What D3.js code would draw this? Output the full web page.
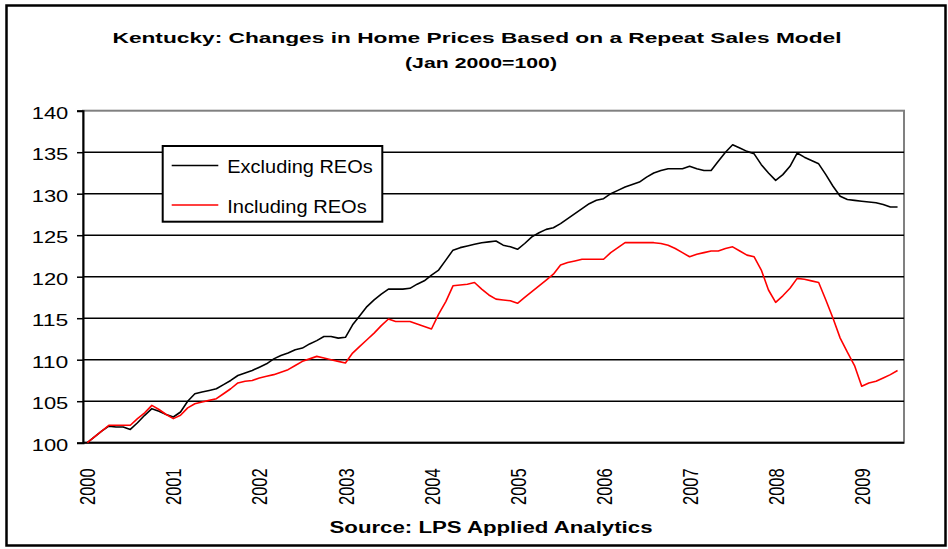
<!DOCTYPE html>
<html>
<head>
<meta charset="utf-8">
<script src="https://cdn.jsdelivr.net/npm/d3@7"></script>
<style>
  body { margin: 0; background: #fff; }
  text { font-family: Arial, "Liberation Sans", sans-serif; }
</style>
</head>
<body>
<script>
// monthly index, Jan 2000 .. Jun 2009
const years = ["2000", "2001", "2002", "2003", "2004", "2005", "2006", "2007", "2008", "2009"];
const yTicks = [100, 105, 110, 115, 120, 125, 130, 135, 140];

const excludingREOs = [
  100, 100.7, 101.4, 102.0, 101.9, 101.9, 101.6, 102.4, 103.3, 104.1, 103.8, 103.4,
  103.1, 103.7, 105.0, 105.9, 106.1, 106.3, 106.5, 107.0, 107.5, 108.1, 108.4, 108.7,
  109.1, 109.5, 110.1, 110.5, 110.8, 111.2, 111.4, 111.9, 112.3, 112.8, 112.8, 112.6,
  112.7, 114.2, 115.3, 116.4, 117.2, 117.9, 118.5, 118.5, 118.5, 118.6, 119.1, 119.5,
  120.2, 120.8, 122.0, 123.2, 123.5, 123.7, 123.9, 124.1, 124.2, 124.3, 123.8, 123.6,
  123.3, 124.0, 124.8, 125.3, 125.7, 125.9, 126.4, 127.0, 127.6, 128.2, 128.8, 129.2,
  129.4, 130.0, 130.4, 130.8, 131.1, 131.4, 132.0, 132.5, 132.8, 133.0, 133.0, 133.0,
  133.3, 133.0, 132.8, 132.8, 133.9, 135.0, 135.9, 135.5, 135.1, 134.8, 133.5, 132.5,
  131.6, 132.3, 133.3, 134.9, 134.4, 134.0, 133.6, 132.3, 130.9, 129.7, 129.3, 129.2,
  129.1, 129.0, 128.9, 128.7, 128.4, 128.4
];

const includingREOs = [
  100, 100.7, 101.4, 102.1, 102.1, 102.1, 102.1, 102.9, 103.6, 104.5, 104.0, 103.4,
  102.9, 103.3, 104.2, 104.7, 104.9, 105.1, 105.3, 105.9, 106.5, 107.2, 107.4, 107.5,
  107.8, 108.0, 108.2, 108.5, 108.8, 109.3, 109.8, 110.1, 110.4, 110.2, 110.0, 109.8,
  109.6, 110.8, 111.6, 112.4, 113.2, 114.1, 114.9, 114.6, 114.6, 114.6, 114.3, 114.0,
  113.7, 115.5, 117.0, 118.9, 119.0, 119.1, 119.3, 118.5, 117.8, 117.3, 117.2, 117.1,
  116.8, 117.5, 118.2, 118.9, 119.6, 120.3, 121.4, 121.7, 121.9, 122.1, 122.1, 122.1,
  122.1, 122.9, 123.5, 124.1, 124.1, 124.1, 124.1, 124.1, 124.0, 123.8, 123.4, 122.9,
  122.4, 122.7, 122.9, 123.1, 123.1, 123.4, 123.6, 123.1, 122.6, 122.4, 120.8, 118.4,
  116.9, 117.7, 118.6, 119.8, 119.7, 119.5, 119.3, 117.2, 115.0, 112.6, 110.9, 109.3,
  106.8, 107.2, 107.4, 107.8, 108.2, 108.7
];

const series = [
  { name: "Excluding REOs", values: excludingREOs, color: "#000000" },
  { name: "Including REOs", values: includingREOs, color: "#ff0000" },
];

const W = 948, H = 549;
const plot = { left: 83, right: 904, top: 110.7, bottom: 442.7 };

const svg = d3.select("body").append("svg")
  .attr("width", W)
  .attr("height", H);

// outer frame
svg.append("rect")
  .attr("x", 6.5).attr("y", 5.5)
  .attr("width", 939).attr("height", 540)
  .attr("fill", "#fff")
  .attr("stroke", "#000")
  .attr("stroke-width", 2.5);

const xScale = d3.scaleLinear()
  .domain([-0.6, 113.9])
  .range([plot.left, plot.right]);

const yScale = d3.scaleLinear()
  .domain([100, 140])
  .range([plot.bottom, plot.top]);

// title
svg.append("text")
  .attr("x", 477).attr("y", 42.7)
  .attr("text-anchor", "middle")
  .attr("font-size", 15.5).attr("font-weight", "bold")
  .attr("textLength", 729).attr("lengthAdjust", "spacingAndGlyphs")
  .text("Kentucky: Changes in Home Prices Based on a Repeat Sales Model");

svg.append("text")
  .attr("x", 481).attr("y", 67.5)
  .attr("text-anchor", "middle")
  .attr("font-size", 15.5).attr("font-weight", "bold")
  .attr("textLength", 152).attr("lengthAdjust", "spacingAndGlyphs")
  .text("(Jan 2000=100)");

// plot area border (grey top/right)
svg.append("rect")
  .attr("x", plot.left).attr("y", plot.top)
  .attr("width", plot.right - plot.left)
  .attr("height", plot.bottom - plot.top)
  .attr("fill", "none")
  .attr("stroke", "#808080")
  .attr("stroke-width", 2);

// gridlines
svg.append("g")
  .selectAll("line")
  .data(yTicks.filter((d) => d > 100 && d < 140))
  .enter()
  .append("line")
  .attr("x1", plot.left).attr("x2", plot.right)
  .attr("y1", (d) => yScale(d)).attr("y2", (d) => yScale(d))
  .attr("stroke", "#000")
  .attr("stroke-width", 1.5);

// y axis
const gY = svg.append("g")
  .attr("transform", "translate(" + plot.left + ",0)")
  .call(d3.axisLeft(yScale).tickValues(yTicks).tickSize(6).tickPadding(0));

gY.select(".domain").attr("stroke", "#000").attr("stroke-width", 2);
gY.selectAll(".tick line").attr("stroke", "#000").attr("stroke-width", 1.5);
gY.selectAll(".tick text")
  .attr("x", -14.7)
  .attr("dy", "0.46em")
  .attr("fill", "#000")
  .attr("font-size", 16)
  .attr("font-family", "Arial, 'Liberation Sans', sans-serif")
  .attr("textLength", 36.6)
  .attr("lengthAdjust", "spacingAndGlyphs");

// x axis line
svg.append("line")
  .attr("x1", plot.left).attr("x2", plot.right)
  .attr("y1", plot.bottom).attr("y2", plot.bottom)
  .attr("stroke", "#000")
  .attr("stroke-width", 2);

// year labels (rotated)
svg.append("g")
  .selectAll("text")
  .data(years)
  .enter()
  .append("text")
  .attr("transform", (d, i) =>
    "translate(" + xScale(i * 12) + ",468.3) scale(1.4,1) rotate(-90)")
  .attr("text-anchor", "end")
  .attr("dy", "0.36em")
  .attr("font-size", 16)
  .attr("textLength", 36.7)
  .attr("lengthAdjust", "spacingAndGlyphs")
  .text((d) => d);

// lines
const line = d3.line()
  .x((d, i) => xScale(i))
  .y((d) => yScale(d));

svg.append("g")
  .selectAll("path")
  .data(series)
  .enter()
  .append("path")
  .attr("d", (d) => line(d.values))
  .attr("fill", "none")
  .attr("stroke", (d) => d.color)
  .attr("stroke-width", 1.6)
  .attr("stroke-linejoin", "round");

// legend
const legend = svg.append("g");
legend.append("rect")
  .attr("x", 162.7).attr("y", 146)
  .attr("width", 219.6).attr("height", 75.7)
  .attr("fill", "#fff")
  .attr("stroke", "#000")
  .attr("stroke-width", 2);

const legendRows = [
  { y: 165.5, base: 173.3, len: 145.4 },
  { y: 205, base: 212.7, len: 139.4 },
];

series.forEach((s, i) => {
  const r = legendRows[i];
  legend.append("line")
    .attr("x1", 171.7).attr("x2", 218.3)
    .attr("y1", r.y).attr("y2", r.y)
    .attr("stroke", s.color)
    .attr("stroke-width", 1.6);
  legend.append("text")
    .attr("x", 227.3).attr("y", r.base)
    .attr("font-size", 17.5)
    .attr("textLength", r.len)
    .attr("lengthAdjust", "spacingAndGlyphs")
    .text(s.name);
});

// source
svg.append("text")
  .attr("x", 491).attr("y", 532.5)
  .attr("text-anchor", "middle")
  .attr("font-size", 16).attr("font-weight", "bold")
  .attr("textLength", 323)
  .attr("lengthAdjust", "spacingAndGlyphs")
  .text("Source: LPS Applied Analytics");
</script>
</body>
</html>
